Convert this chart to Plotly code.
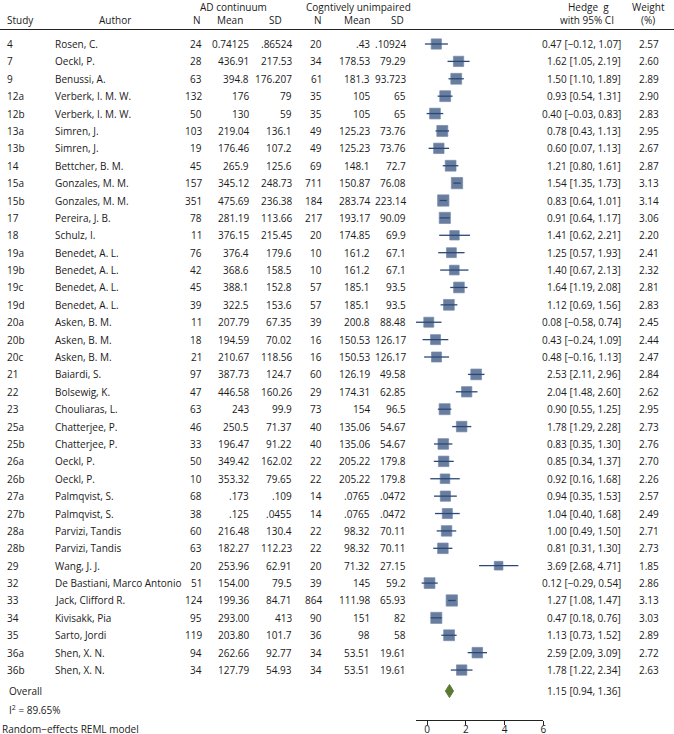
import plotly.graph_objects as go

# ---------------- data ----------------
study = ["4", "7", "9", "12a", "12b", "13a", "13b", "14", "15a", "15b", "17", "18",
         "19a", "19b", "19c", "19d", "20a", "20b", "20c", "21", "22", "23", "25a", "25b",
         "26a", "26b", "27a", "27b", "28a", "28b", "29", "32", "33", "34", "35", "36a", "36b"]
author = ["Rosen, C.", "Oeckl, P.", "Benussi, A.", "Verberk, I. M. W.", "Verberk, I. M. W.",
          "Simren, J.", "Simren, J.", "Bettcher, B. M.", "Gonzales, M. M.", "Gonzales, M. M.",
          "Pereira, J. B.", "Schulz, I.", "Benedet, A. L.", "Benedet, A. L.", "Benedet, A. L.",
          "Benedet, A. L.", "Asken, B. M.", "Asken, B. M.", "Asken, B. M.", "Baiardi, S.",
          "Bolsewig, K.", "Chouliaras, L.", "Chatterjee, P.", "Chatterjee, P.", "Oeckl, P.",
          "Oeckl, P.", "Palmqvist, S.", "Palmqvist, S.", "Parvizi, Tandis", "Parvizi, Tandis",
          "Wang, J. J.", "De Bastiani, Marco Antonio", "Jack, Clifford R.", "Kivisakk, Pia",
          "Sarto, Jordi", "Shen, X. N.", "Shen, X. N."]
ad_n = ["24", "28", "63", "132", "50", "103", "19", "45", "157", "351", "78", "11", "76", "42",
        "45", "39", "11", "18", "21", "97", "47", "63", "46", "33", "50", "10", "68", "38", "60",
        "63", "20", "51", "124", "95", "119", "94", "34"]
ad_mean = ["0.74125", "436.91", "394.8", "176", "130", "219.04", "176.46", "265.9", "345.12",
           "475.69", "281.19", "376.15", "376.4", "368.6", "388.1", "322.5", "207.79", "194.59",
           "210.67", "387.73", "446.58", "243", "250.5", "196.47", "349.42", "353.32", ".173",
           ".125", "216.48", "182.27", "253.96", "154.00", "199.36", "293.00", "203.80",
           "262.66", "127.79"]
ad_sd = [".86524", "217.53", "176.207", "79", "59", "136.1", "107.2", "125.6", "248.73",
         "236.38", "113.66", "215.45", "179.6", "158.5", "152.8", "153.6", "67.35", "70.02",
         "118.56", "124.7", "160.26", "99.9", "71.37", "91.22", "162.02", "79.65", ".109",
         ".0455", "130.4", "112.23", "62.91", "79.5", "84.71", "413", "101.7", "92.77", "54.93"]
cu_n = ["20", "34", "61", "35", "35", "49", "49", "69", "711", "184", "217", "20", "10", "10",
        "57", "57", "39", "16", "16", "60", "29", "73", "40", "40", "22", "22", "14", "14", "22",
        "22", "20", "39", "864", "90", "36", "34", "34"]
cu_mean = [".43", "178.53", "181.3", "105", "105", "125.23", "125.23", "148.1", "150.87",
           "283.74", "193.17", "174.85", "161.2", "161.2", "185.1", "185.1", "200.8", "150.53",
           "150.53", "126.19", "174.31", "154", "135.06", "135.06", "205.22", "205.22", ".0765",
           ".0765", "98.32", "98.32", "71.32", "145", "111.98", "151", "98", "53.51", "53.51"]
cu_sd = [".10924", "79.29", "93.723", "65", "65", "73.76", "73.76", "72.7", "76.08", "223.14",
         "90.09", "69.9", "67.1", "67.1", "93.5", "93.5", "88.48", "126.17", "126.17", "49.58",
         "62.85", "96.5", "54.67", "54.67", "179.8", "179.8", ".0472", ".0472", "70.11", "70.11",
         "27.15", "59.2", "65.93", "82", "58", "19.61", "19.61"]
hedge_g = [0.47, 1.62, 1.50, 0.93, 0.40, 0.78, 0.60, 1.21, 1.54, 0.83, 0.91, 1.41, 1.25, 1.40,
           1.64, 1.12, 0.08, 0.43, 0.48, 2.53, 2.04, 0.90, 1.78, 0.83, 0.85, 0.92, 0.94, 1.04,
           1.00, 0.81, 3.69, 0.12, 1.27, 0.47, 1.13, 2.59, 1.78]
ci_lo = [-0.12, 1.05, 1.10, 0.54, -0.03, 0.43, 0.07, 0.80, 1.35, 0.64, 0.64, 0.62, 0.57, 0.67,
         1.19, 0.69, -0.58, -0.24, -0.16, 2.11, 1.48, 0.55, 1.29, 0.35, 0.34, 0.16, 0.35, 0.40,
         0.49, 0.31, 2.68, -0.29, 1.08, 0.18, 0.73, 2.09, 1.22]
ci_hi = [1.07, 2.19, 1.89, 1.31, 0.83, 1.13, 1.13, 1.61, 1.73, 1.01, 1.17, 2.21, 1.93, 2.13,
         2.08, 1.56, 0.74, 1.09, 1.13, 2.96, 2.60, 1.25, 2.28, 1.30, 1.37, 1.68, 1.53, 1.68,
         1.50, 1.30, 4.71, 0.54, 1.47, 0.76, 1.52, 3.09, 2.34]
weight = [2.57, 2.60, 2.89, 2.90, 2.83, 2.95, 2.67, 2.87, 3.13, 3.14, 3.06, 2.20, 2.41, 2.32,
          2.81, 2.83, 2.45, 2.44, 2.47, 2.84, 2.62, 2.95, 2.73, 2.76, 2.70, 2.26, 2.57, 2.49,
          2.71, 2.73, 1.85, 2.86, 3.13, 3.03, 2.89, 2.72, 2.63]
overall_g, overall_lo, overall_hi = 1.15, 0.94, 1.36
i2_text = "89.65%"
model_text = "Random\u2212effects REML model"
x_ticks = [0, 2, 4, 6]

# ---------------- layout helpers ----------------
W, H = 674, 734
ROW0, STEP = 44.0, 17.39
FONT = "Open Sans"
TXT = "#1a1a1a"
NAVY = "#2a4877"
GREEN = "#5a7a34"
FS = 10


def prow(p):
    """pixel y -> row units"""
    return (p - ROW0) / STEP


def fx(p):
    return p / W


def fy(p):
    return 1 - p / H


def fmt(v):
    return f"{v:.2f}".replace("-", "\u2212")


n = len(study)
rows = list(range(n))
overall_row = prow(691)

fig = go.Figure()

# whiskers + boxes
fig.add_trace(go.Scatter(
    x=hedge_g, y=rows, mode="markers",
    marker=dict(symbol="square", color=NAVY,
                size=[11.3 * (w / 3.14) ** 0.5 for w in weight],
                line=dict(color="#3a5788", width=0.7)),
    error_x=dict(type="data", symmetric=False,
                 array=[h - g for h, g in zip(ci_hi, hedge_g)],
                 arrayminus=[g - l for g, l in zip(hedge_g, ci_lo)],
                 color=NAVY, thickness=1.3, width=0),
    hoverinfo="skip", showlegend=False, cliponaxis=False))

# overall diamond
h = 6.5 / STEP
fig.add_trace(go.Scatter(
    x=[overall_lo, overall_g, overall_hi, overall_g, overall_lo],
    y=[overall_row, overall_row - h, overall_row, overall_row + h, overall_row],
    mode="lines", fill="toself", fillcolor=GREEN,
    line=dict(color=GREEN, width=1), hoverinfo="skip", showlegend=False))

ann = []


def add(text, x, y, anchor, yref="y"):
    ann.append(dict(text=text, x=fx(x), y=y, xref="paper", yref=yref,
                    xanchor=anchor, yanchor="middle", showarrow=False,
                    font=dict(family=FONT, size=FS, color=TXT)))


# rows
for i in rows:
    add(study[i], 5, i, "left")
    add(author[i], 53, i, "left")
    add(ad_n[i], 204, i, "right")
    add(ad_mean[i], 251, i, "right")
    add(ad_sd[i], 294, i, "right")
    add(cu_n[i], 324, i, "right")
    add(cu_mean[i], 372, i, "right")
    add(cu_sd[i], 408, i, "right")
    add(f"{fmt(hedge_g[i])} [{fmt(ci_lo[i])}, {fmt(ci_hi[i])}]", 623, i, "right")
    add(f"{weight[i]:.2f}", 661, i, "right")

# overall row
add("Overall", 7, overall_row, "left")
add(f"{fmt(overall_g)} [{fmt(overall_lo)}, {fmt(overall_hi)}]", 623, overall_row, "right")

# headers
add("AD continuum", 233, fy(7), "center", "paper")
add("Cogntively unimpaired", 358, fy(7), "center", "paper")
add("Hedge  g", 588, fy(7), "center", "paper")
add("Weight", 648, fy(7), "center", "paper")
for txt, x, a in [("Study", 5, "left"), ("Author", 115, "center"), ("N", 197, "center"),
                  ("Mean", 230, "center"), ("SD", 275, "center"), ("N", 318, "center"),
                  ("Mean", 357, "center"), ("SD", 397, "center"),
                  ("with 95% CI", 587, "center"), ("(%)", 648, "center")]:
    add(txt, x, fy(20.5), a, "paper")

# footer
add(f"I<sup>2</sup> = {i2_text}", 7, fy(709.5), "left", "paper")
add(model_text, 0, fy(728.5), "left", "paper")

fig.update_layout(
    width=W, height=H,
    margin=dict(l=0, r=0, t=0, b=0),
    paper_bgcolor="white", plot_bgcolor="white",
    font=dict(family=FONT, size=FS, color=TXT),
    annotations=ann,
    shapes=[dict(type="line", xref="paper", yref="paper", x0=0, x1=1,
                 y0=fy(29.5), y1=fy(29.5), line=dict(color="#222", width=1))],
    xaxis=dict(domain=[fx(416), fx(543.3)], range=[-0.58, 6],
               tickvals=x_ticks, ticktext=[str(t) for t in x_ticks],
               ticks="outside", ticklen=4, tickwidth=1, tickcolor="#222",
               ticklabelstandoff=-4,
               showline=True, linecolor="#222", linewidth=1,
               showgrid=False, zeroline=False, automargin=False,
               tickfont=dict(family=FONT, size=FS, color=TXT), fixedrange=True),
    yaxis=dict(domain=[fy(720), 1], range=[prow(720), prow(0)],
               visible=False, showgrid=False, zeroline=False, fixedrange=True),
)

fig.write_html("out.html",
               config={"displayModeBar": False},
               post_script="document.body.style.margin='0';document.body.style.overflow='hidden';")
